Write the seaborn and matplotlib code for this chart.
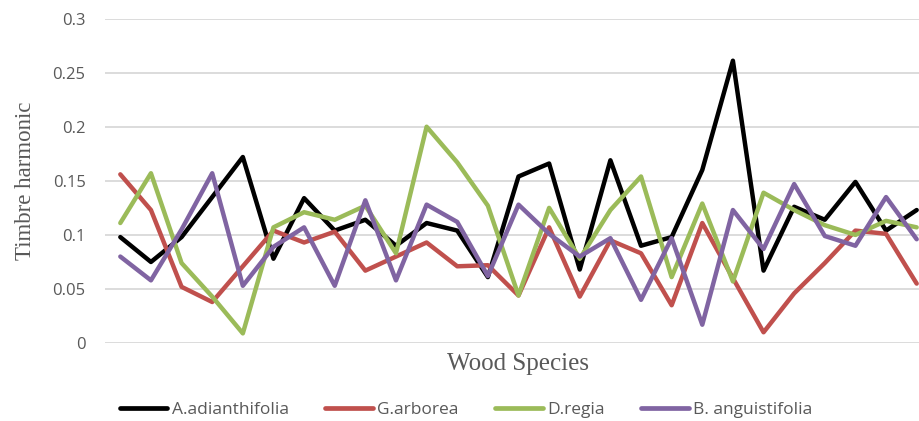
# %% Timbre harmonic by wood species
import pandas as pd
import numpy as np
import seaborn as sns
import matplotlib.pyplot as plt

# Values, one per sample position (27 positions)
a_adianthifolia = [0.098, 0.075, 0.098, 0.135, 0.172, 0.078, 0.134, 0.104, 0.114,
                   0.090, 0.111, 0.104, 0.061, 0.154, 0.166, 0.068, 0.169, 0.090,
                   0.098, 0.160, 0.261, 0.067, 0.126, 0.114, 0.149, 0.104, 0.123]
g_arborea = [0.156, 0.123, 0.052, 0.038, 0.071, 0.104, 0.093, 0.103, 0.067,
             0.080, 0.093, 0.071, 0.072, 0.044, 0.107, 0.043, 0.095, 0.083,
             0.035, 0.111, 0.060, 0.010, 0.046, 0.074, 0.104, 0.101, 0.055]
d_regia = [0.111, 0.157, 0.074, 0.043, 0.009, 0.107, 0.121, 0.114, 0.127,
           0.083, 0.200, 0.167, 0.127, 0.044, 0.125, 0.078, 0.123, 0.154,
           0.061, 0.129, 0.057, 0.139, 0.123, 0.109, 0.100, 0.113, 0.107]
b_anguistifolia = [0.080, 0.058, 0.105, 0.157, 0.053, 0.089, 0.107, 0.053, 0.132,
                   0.058, 0.128, 0.112, 0.062, 0.128, 0.101, 0.080, 0.097, 0.040,
                   0.097, 0.017, 0.123, 0.087, 0.147, 0.099, 0.090, 0.135, 0.096]

species = ['A.adianthifolia', 'G.arborea', 'D.regia', 'B. anguistifolia']
colors = ['#000000', '#C0504D', '#9BBB59', '#8064A2']
y_ticks = [0, 0.05, 0.1, 0.15, 0.2, 0.25, 0.3]
y_tick_labels = ['0', '0.05', '0.1', '0.15', '0.2', '0.25', '0.3']

# Long format for seaborn
series = [a_adianthifolia, g_arborea, d_regia, b_anguistifolia]
df = pd.concat([
    pd.DataFrame({'Sample': np.arange(len(vals)), 'Timbre': vals, 'Species': name})
    for name, vals in zip(species, series)
])

sns.set_style('white')
plt.rcParams['font.family'] = ['Open Sans', 'DejaVu Sans']

fig = plt.figure(figsize=(9.2, 4.21), dpi=100)
# axis runs a bit past the right edge of the picture, like the cropped original
ax = fig.add_axes([105 / 920, 0.185, 827 / 920, 0.771])

sns.lineplot(data=df, x='Sample', y='Timbre', hue='Species', hue_order=species,
             palette=colors, linewidth=3.2, ax=ax, legend=True)

ax.set_xlim(-0.5, len(a_adianthifolia) - 0.5)
ax.set_ylim(0, 0.3)
ax.set_yticks(y_ticks)
ax.set_yticklabels(y_tick_labels)
ax.set_xticks([])
ax.grid(axis='y', color='#D9D9D9', linewidth=1.3)
ax.set_axisbelow(True)
for s in ax.spines.values():
    s.set_visible(False)
ax.tick_params(axis='y', length=0, pad=14, labelsize=12, labelcolor='#595959')

ax.set_xlabel('Wood Species', family='Liberation Serif', fontsize=18,
              color='#595959', labelpad=7)
ax.set_ylabel('Timbre harmonic', family='Liberation Serif', fontsize=16.5,
              color='#595959', labelpad=12)

# Legend along the bottom
handles, labels = ax.get_legend_handles_labels()
ax.get_legend().remove()
for h in handles:
    h.set_linewidth(3.4)
fig.legend(handles, labels, loc='center', bbox_to_anchor=(0.5065, 0.026), ncol=4,
           frameon=False, fontsize=12.5, handlelength=2.75, handletextpad=0.25,
           columnspacing=2.1, labelcolor='#595959')

plt.savefig('out.png', dpi=100)
